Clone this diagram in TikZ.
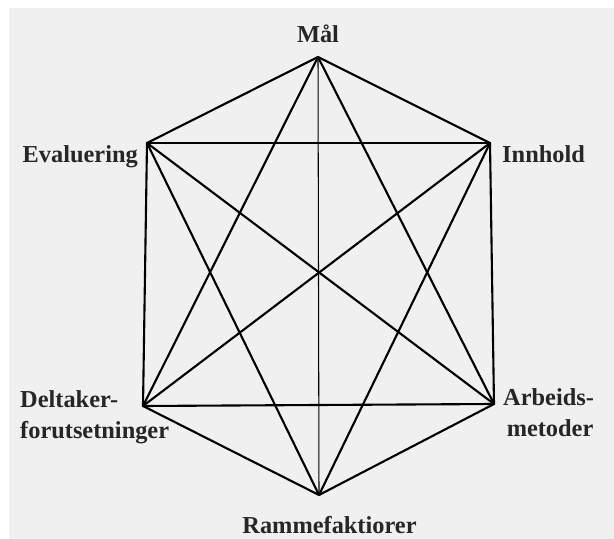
\documentclass[tikz,border=0pt]{standalone}
\usepackage{fontspec}
\setmainfont{Liberation Serif}
\usepackage{xcolor}
\usepackage{tikz}
\usetikzlibrary{positioning}

\definecolor{bggray}{HTML}{F0F0F0}
\definecolor{txtgray}{HTML}{262626}

\begin{document}
\begin{tikzpicture}[x=0.03cm, y=-0.03cm,
  edge/.style={line width=1.8pt, line cap=round, line join=round},
  axis/.style={line width=0.9pt},
  lbl/.style={font=\fontsize{20.8}{26}\selectfont\bfseries, text=txtgray, inner sep=0pt, align=left}
]
 % Background
 \fill[white] (0,0) rectangle (614,539);
 \fill[bggray] (9,8) rectangle (614,539);
 \useasboundingbox (0,0) rectangle (614,539);

 % Corners of the hexagon
 \coordinate (maal) at (318,57);
 \coordinate (innhold) at (490,143);
 \coordinate (arbeid) at (494,404);
 \coordinate (ramme) at (319,495);
 \coordinate (deltaker) at (143,406);
 \coordinate (eval) at (147,143);

 % Labels (two-line ones sit on the baseline of their last line)
 \node[lbl, anchor=base] (tMaal) at (318,43) {Mål};
 \node[lbl, anchor=base east] (tEval) at (138,163) {Evaluering};
 \node[lbl, anchor=base west] (tInnhold) at (502,163) {Innhold};
 \node[lbl, anchor=base west] (tDeltaker) at (20,438) {Deltaker-\\forutsetninger};
 \node[lbl, anchor=base west] (tArbeid) at (503,436) {Arbeids-\\\hspace*{3pt}metoder};
 \node[lbl, anchor=base] (tRamme) at (329.5,533) {Rammefaktiorer};

 % Outer hexagon
 \draw[edge] (maal) -- (innhold) -- (arbeid) -- (ramme) -- (deltaker) -- (eval) -- cycle;

 % Cross lines
 \draw[edge] (eval) -- (innhold);
 \draw[edge] (deltaker) -- (arbeid);
 \draw[edge] (maal) -- (deltaker);
 \draw[edge] (maal) -- (arbeid);
 \draw[edge] (ramme) -- (eval);
 \draw[edge] (ramme) -- (innhold);
 \draw[edge] (eval) -- (arbeid);
 \draw[edge] (innhold) -- (deltaker);
 \draw[axis] (maal) -- (ramme);
\end{tikzpicture}
\end{document}
